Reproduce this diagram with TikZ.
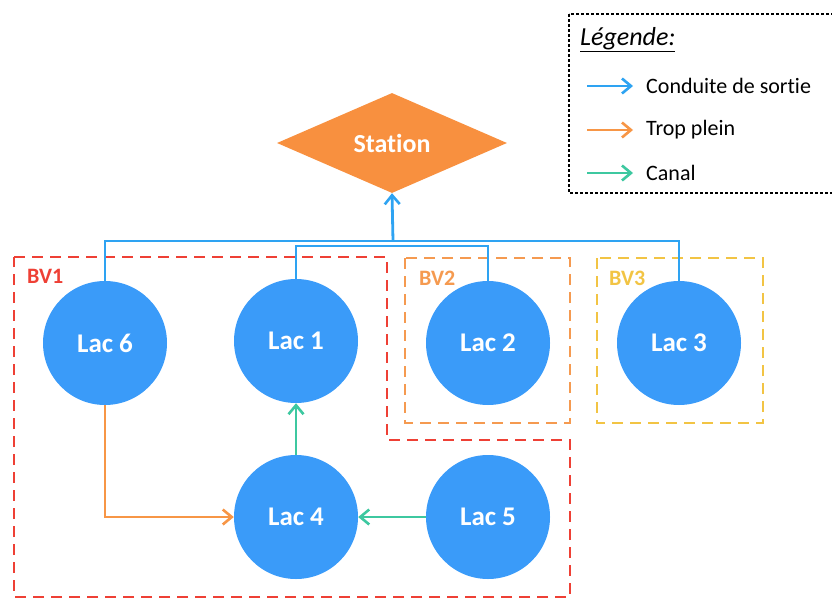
\documentclass[tikz,border=0pt]{standalone}
\usepackage{fontspec}
\setmainfont[Ligatures=CommonOff]{Carlito}
\usetikzlibrary{shapes.geometric,arrows.meta}
\definecolor{lacblue}{RGB}{58,155,249}
\definecolor{lineblue}{RGB}{46,163,242}
\definecolor{stationorange}{RGB}{248,144,63}
\definecolor{lineorange}{RGB}{247,150,70}
\definecolor{linegreen}{RGB}{61,200,160}
\definecolor{bvred}{RGB}{238,64,53}
\definecolor{bvorange}{RGB}{245,154,80}
\definecolor{bvyellow}{RGB}{242,196,68}
\tikzset{
  lac/.style={circle,fill=lacblue,minimum size=124pt,inner sep=0pt,text=white,font=\fontsize{27}{32}\selectfont\bfseries},
  tip/.style={-{Straight Barb[length=9pt,width=15pt,line width=2.6pt]}},
  bl/.style={draw=lineblue,line width=2.8pt},
  orl/.style={draw=lineorange,line width=2.8pt},
  grl/.style={draw=linegreen,line width=2.8pt},
  bvbox/.style={line width=2.8pt,dash pattern=on 11pt off 7pt},
  bvlabel/.style={font=\fontsize{22}{26}\selectfont\bfseries,inner sep=0pt},
  legtext/.style={anchor=west,font=\fontsize{22}{26}\selectfont,inner sep=0pt},
}
\begin{document}
\begin{tikzpicture}[x=1pt,y=-1pt]
\useasboundingbox (0,0) rectangle (832,599);
\clip (0,0) rectangle (832,599);
% basin boxes
\draw[bvbox,draw=bvred] (14,257) -- (387,257) -- (387,440) -- (570,440) -- (570,597) -- (14,597) -- cycle;
\draw[bvbox,draw=bvorange] (405,258) rectangle (570,423);
\draw[bvbox,draw=bvyellow] (597,258) rectangle (763,423);
\node[bvlabel,text=bvred,anchor=west] (bv1) at (27,276) {BV1};
\node[bvlabel,text=bvorange,anchor=west] (bv2) at (419,278) {BV2};
\node[bvlabel,text=bvyellow,anchor=west] (bv3) at (609,278) {BV3};
% station
\node[diamond,fill=stationorange,minimum width=230pt,minimum height=100pt,inner sep=0pt,text=white,font=\fontsize{26}{31}\selectfont\bfseries] (station) at (392,143) {Station};
% lakes
\node[lac] (lac6) at (105,343) {Lac 6};
\node[lac] (lac1) at (296,341) {Lac 1};
\node[lac] (lac2) at (488,343) {Lac 2};
\node[lac] (lac3) at (679,343) {Lac 3};
\node[lac] (lac4) at (296,517) {Lac 4};
\node[lac] (lac5) at (488,517) {Lac 5};
% outlet pipes
\coordinate (bus) at (393,241);
\coordinate (busin) at (393,246);
\draw[bl] (lac6.north) |- (bus);
\draw[bl] (lac3.north) |- (bus);
\draw[bl] (lac1.north) |- (busin) -| (lac2.north);
\draw[bl,tip] (bus) -- (station.south);
% overflow and canals
\draw[orl,tip] (lac6.south) |- (lac4.west);
\draw[grl,tip] (lac4.north) -- (lac1.south);
\draw[grl,tip] (lac5.west) -- (lac4.east);
% legend
\draw[line width=1.3pt,dash pattern=on 3pt off 2pt] (569,14) rectangle (845,193);
\node[legtext,font=\fontsize{26}{30}\selectfont] (legtitle) at (580,40) {\textit{\underline{Légende:}}};
\coordinate (la1) at (587,86); \coordinate (lb1) at (633,86);
\coordinate (la2) at (587,130); \coordinate (lb2) at (633,130);
\coordinate (la3) at (587,173); \coordinate (lb3) at (633,173);
\draw[bl,tip] (la1) -- (lb1);
\draw[orl,tip] (la2) -- (lb2);
\draw[grl,tip] (la3) -- (lb3);
\node[legtext] (t1) at (646,86) {Conduite de sortie};
\node[legtext] (t2) at (646,130) {Trop plein};
\node[legtext] (t3) at (646,173) {Canal};
\end{tikzpicture}
\end{document}
